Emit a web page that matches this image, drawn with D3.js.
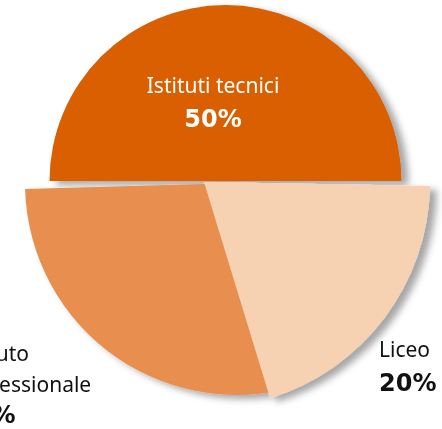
<!DOCTYPE html>
<html>
<head>
<meta charset="utf-8">
<script src="https://cdn.jsdelivr.net/npm/d3@7"></script>
<style>
  html, body { margin: 0; padding: 0; background: #fff; overflow: hidden; }
  .lbl { font-family: "Noto Sans", sans-serif; font-size: 21px; }
  .pct { font-family: "DejaVu Sans", sans-serif; font-size: 24px; font-weight: bold; }
</style>
</head>
<body>
<svg id="chart" width="442" height="429"></svg>
<script>
// data
const categories = ["Istituti tecnici", "Liceo", "Istituto professionale"];
const shares = [50, 20, 30];
const colors = ["#d95e00", "#f6d1b2", "#e88f50"];

// each slice is pulled out and sized on its own (exploded look)
const sliceLayout = [
  { cx: 225.5, cy: 181, r: 176, rot: 0 },
  { cx: 204, cy: 182, r: 226, rot: 1 },
  { cx: 237, cy: 183, r: 212, rot: -1.6 },
];

// label placement: x, first baseline, anchor, text colour
const labelLayout = [
  { x: 213, y: 93, anchor: "middle", fill: "#fff" },
  { x: 379, y: 357, anchor: "start", fill: "#111" },
  { x: -42, y: 361, anchor: "start", fill: "#111" },
];

const svg = d3.select("#chart");

const defs = svg.append("defs");
defs.append("filter")
  .attr("id", "shadow")
  .attr("x", "-20%").attr("y", "-20%")
  .attr("width", "140%").attr("height", "140%")
  .append("feDropShadow")
  .attr("dx", 7).attr("dy", 4)
  .attr("stdDeviation", 3.5)
  .attr("flood-color", "#000")
  .attr("flood-opacity", 0.35);

const pie = d3.pie()
  .sort(null)
  .startAngle(-Math.PI / 2)
  .endAngle(1.5 * Math.PI)
  .value((d) => d);

const arcs = pie(shares);

const slices = svg.append("g").attr("filter", "url(#shadow)");

// draw order: big top slice, then professionale, then liceo on top
[0, 2, 1].forEach(function (i) {
  const a = arcs[i];
  const L = sliceLayout[i];
  const arc = d3.arc().innerRadius(0).outerRadius(L.r);
  slices.append("path")
    .attr("d", arc(a))
    .attr("fill", colors[i])
    .attr("transform", `translate(${L.cx},${L.cy}) rotate(${L.rot})`);
});

// labels
categories.forEach(function (name, i) {
  const P = labelLayout[i];
  const g = svg.append("g").attr("fill", P.fill).attr("text-anchor", P.anchor);
  let lines = [name];
  if (name === "Istituto professionale") lines = ["Istituto", "professionale"];
  lines.forEach(function (t, k) {
    g.append("text")
      .attr("class", "lbl")
      .attr("x", P.x)
      .attr("y", P.y + k * 31)
      .text(t);
  });
  g.append("text")
    .attr("class", "pct")
    .attr("x", P.x)
    .attr("y", P.y + lines.length * 31 + (lines.length === 1 ? 3 : 0))
    .text(shares[i] + "%");
});
</script>
</body>
</html>
